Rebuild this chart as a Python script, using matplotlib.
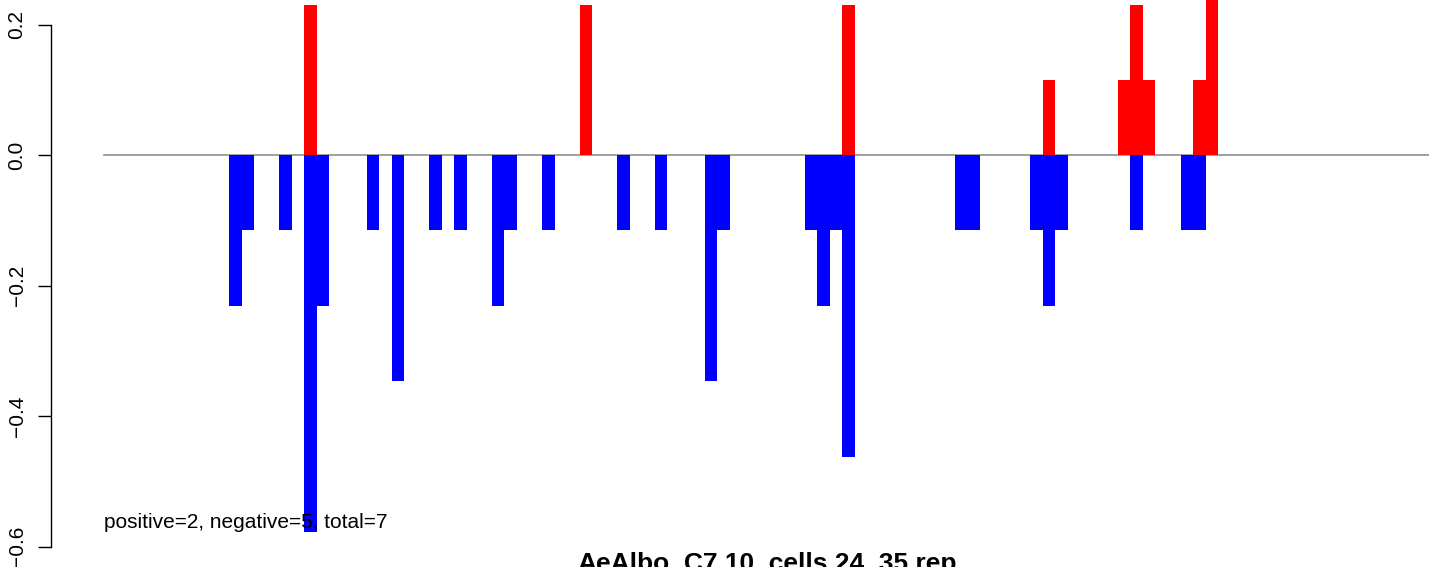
#!/usr/bin/env python3

"""
plot.py

Overlaid positive / negative bar profile along a replicate
"""

import matplotlib
matplotlib.use('Agg')
import matplotlib.pyplot as plt

plt.rcParams['font.family'] = ['Liberation Sans', 'DejaVu Sans']

# data
n_slots = 106
neg_slot = [10, 11, 14, 16, 17, 21, 23, 26, 28, 31, 32, 35, 41, 44, 48, 49,
            56, 57, 58, 59, 68, 69, 74, 75, 76, 82, 86, 87]
neg_val = [-0.231, -0.115, -0.115, -0.577, -0.231, -0.115, -0.346, -0.115,
           -0.115, -0.231, -0.115, -0.115, -0.115, -0.115, -0.346, -0.115,
           -0.115, -0.231, -0.115, -0.462, -0.115, -0.115, -0.115, -0.231,
           -0.115, -0.115, -0.115, -0.115]
pos_slot = [16, 38, 59, 75, 81, 82, 83, 87, 88]
pos_val = [0.231, 0.231, 0.231, 0.115, 0.115, 0.231, 0.115, 0.115, 0.346]
y_ticks = [-0.6, -0.4, -0.2, 0.0, 0.2]
y_tick_labels = ['\u22120.6', '\u22120.4', '\u22120.2', '0.0', '0.2']
counts_text = 'positive=2, negative=5, total=7'
title = 'AeAlbo_C7.10_cells.24_35.rep'

W, H = 1429, 567
fig = plt.figure(figsize=(W / 100, H / 100), dpi=100)

# R-like plot region (4% padding), partly outside the picture
xpad = 0.04 * n_slots
ymin = min(neg_val) - 0.04 * (max(pos_val) - min(neg_val))
ymax = max(pos_val) + 0.04 * (max(pos_val) - min(neg_val))
px_x = 12.52   # pixels per bar
px_y = 652.5   # pixels per unit
left = 50.7
zero_px = 155.3
ax_w = (n_slots + 2 * xpad) * px_x
ax_h = (ymax - ymin) * px_y
bottom_px = zero_px - ymin * px_y
ax = fig.add_axes([left / W, (H - bottom_px) / H, ax_w / W, ax_h / H])
ax.set_xlim(-xpad, n_slots + xpad)
ax.set_ylim(ymin, ymax)

ax.plot([0, n_slots], [0, 0], color='#999999', lw=1.3, zorder=1)
ax.bar(pos_slot, pos_val, width=1, align='edge', color='#ff0000',
       linewidth=0, zorder=2)
ax.bar(neg_slot, neg_val, width=1, align='edge', color='#0000ff',
       linewidth=0, zorder=2)

ax.text(0, -0.571, counts_text, fontsize=15, va='baseline', ha='left',
        zorder=3)

for s in ['top', 'right', 'bottom']:
    ax.spines[s].set_visible(False)
ax.spines['left'].set_bounds(y_ticks[0], y_ticks[-1])
ax.spines['left'].set_linewidth(1.0)
ax.set_xticks([])
ax.set_yticks(y_ticks)
ax.set_yticklabels(y_tick_labels, rotation=90, va='center')
ax.tick_params(axis='y', length=9.4, width=1.0, labelsize=15, pad=8)

fig.text((left + ax_w / 2) / W, (H - 571) / H, title, fontsize=19,
         fontweight='bold', ha='center', va='baseline')

fig.savefig('out.png', dpi=100)
